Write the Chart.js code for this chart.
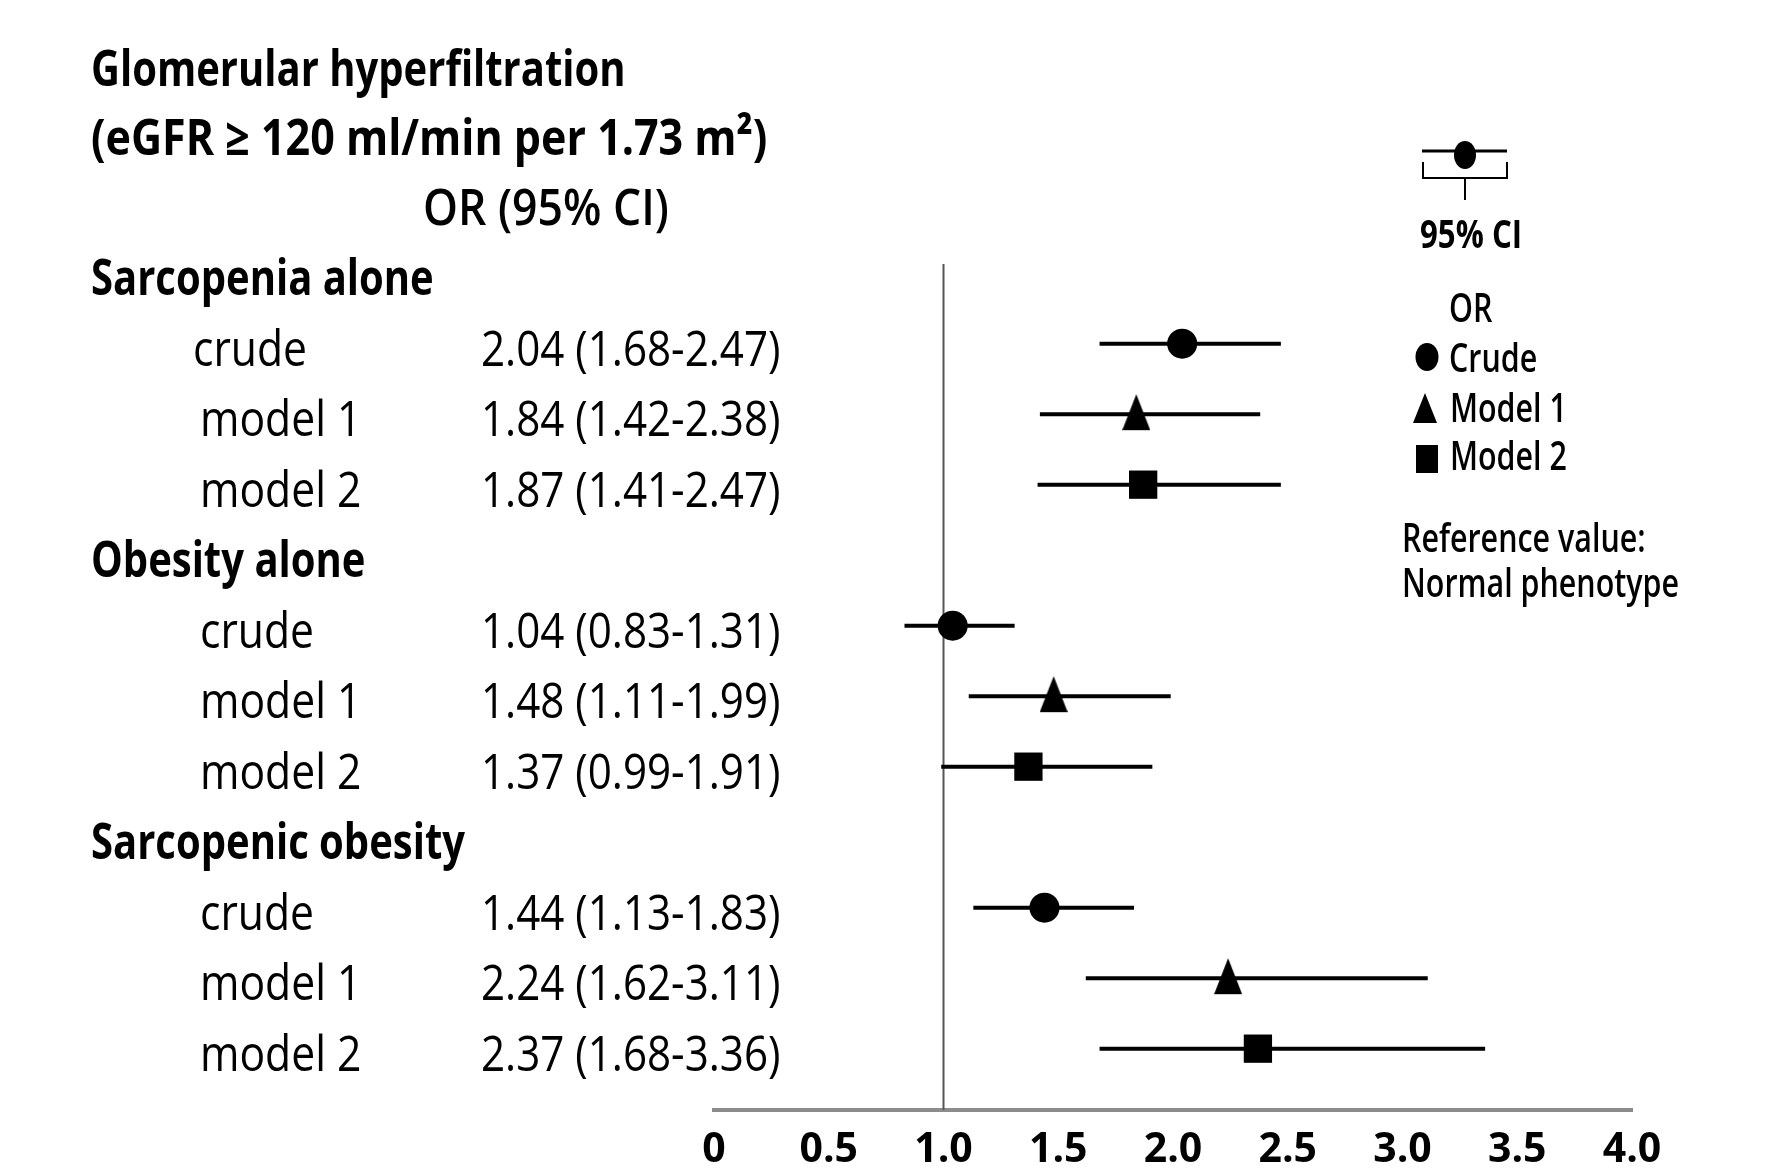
<!DOCTYPE html>
<html lang="en">
<head>
<meta charset="UTF-8">
<title>Glomerular hyperfiltration - OR (95% CI)</title>
<style>
  html, body { margin: 0; padding: 0; background: #fff; }
</style>
<script src="https://cdn.jsdelivr.net/npm/chart.js"></script>
</head>
<body>
<canvas id="forest" width="1785" height="1175"></canvas>
<script>
// values
const groups = ['Sarcopenia alone', 'Obesity alone', 'Sarcopenic obesity'];
const models = ['crude', 'model 1', 'model 2'];
const legendNames = ['Crude', 'Model 1', 'Model 2'];
const oddsRatio = [2.04, 1.84, 1.87, 1.04, 1.48, 1.37, 1.44, 2.24, 2.37];
const ciLow = [1.68, 1.42, 1.41, 0.83, 1.11, 0.99, 1.13, 1.62, 1.68];
const ciHigh = [2.47, 2.38, 2.47, 1.31, 1.99, 1.91, 1.83, 3.11, 3.36];
const xTicks = [0, 0.5, 1.0, 1.5, 2.0, 2.5, 3.0, 3.5, 4.0];
const tickLabels = ['0', '0.5', '1.0', '1.5', '2.0', '2.5', '3.0', '3.5', '4.0'];
const refValue = 1;
const titleLines = ['Glomerular hyperfiltration', '(eGFR \u2265 120 ml/min per 1.73 m\u00b2)'];

// row 0..2 are the header lines, then each group takes 4 rows
const groupRow = g => 3 + g * 4;
const rowOf = i => groupRow(Math.floor(i / 3)) + 1 + (i % 3);
const fmt = v => v.toFixed(2);

function triangleImg(w, h, base) {
    const c = document.createElement('canvas');
    c.width = w; c.height = h;
    const g = c.getContext('2d');
    g.fillStyle = '#000';
    g.beginPath();
    g.moveTo(w / 2, 1);
    g.lineTo(w, base);
    g.lineTo(0, base);
    g.closePath();
    g.fill();
    return c;
}

const markerStyles = [
    { pointStyle: 'circle', pointRadius: 15 },
    { pointStyle: triangleImg(28, 42, 37), pointRadius: 15 },
    { pointStyle: 'rect', pointRadius: 20 }
];

// text squeezed horizontally like the original figure
function txt(ctx, s, x, y, f) {
    ctx.save();
    ctx.font = f.weight + ' ' + f.size + 'px "Open Sans"';
    ctx.fillStyle = '#000';
    ctx.textBaseline = 'alphabetic';
    ctx.textAlign = 'left';
    ctx.translate(x, y);
    ctx.scale(f.sx, 1);
    ctx.fillText(s, 0, 0);
    ctx.restore();
}

const headFont = { weight: 700, size: 50, sx: 0.80 };
const title2Font = { weight: 700, size: 50, sx: 0.86 };
const orFont = { weight: 600, size: 50, sx: 0.89 };
const subFont = { weight: 400, size: 49, sx: 0.87 };
const valFont = { weight: 400, size: 49, sx: 0.86 };
const legFont = { weight: 600, size: 39, sx: 0.78 };
const legBold = { weight: 700, size: 39, sx: 0.8 };

const forestDecor = {
    id: 'forestDecor',
    beforeDatasetsDraw(chart) {
        const { ctx, chartArea, scales } = chart;
        const x = scales.x.getPixelForValue(refValue);
        ctx.save();
        ctx.strokeStyle = '#555';
        ctx.lineWidth = 2;
        ctx.beginPath();
        ctx.moveTo(x, chartArea.top);
        ctx.lineTo(x, chartArea.bottom);
        ctx.stroke();
        ctx.restore();
    },
    afterDraw(chart) {
        const { ctx, scales } = chart;
        const y = r => scales.y.getPixelForValue(r) + 22;

        txt(ctx, titleLines[0], 91, y(0) + 2, headFont);
        txt(ctx, titleLines[1], 91, y(1) + 1, title2Font);
        txt(ctx, 'OR (95% CI)', 423, y(2), orFont);

        groups.forEach((g, gi) => txt(ctx, g, 91, y(groupRow(gi)), headFont));
        oddsRatio.forEach((v, i) => {
            const r = rowOf(i);
            txt(ctx, models[i % 3], i === 0 ? 193 : 200, y(r), subFont);
            txt(ctx, fmt(v) + ' (' + fmt(ciLow[i]) + '-' + fmt(ciHigh[i]) + ')', 481, y(r), valFont);
        });

        // legend block
        ctx.save();
        ctx.fillStyle = '#000';
        ctx.strokeStyle = '#000';
        ctx.lineWidth = 3;
        ctx.beginPath();
        ctx.moveTo(1422, 151); ctx.lineTo(1507, 151);
        ctx.stroke();
        ctx.beginPath();
        ctx.ellipse(1465, 155, 11, 14, 0, 0, Math.PI * 2);
        ctx.fill();
        ctx.lineWidth = 2;
        ctx.beginPath();
        ctx.moveTo(1423, 162); ctx.lineTo(1423, 178); ctx.lineTo(1507, 178); ctx.lineTo(1507, 162);
        ctx.moveTo(1465, 178); ctx.lineTo(1465, 200);
        ctx.stroke();

        ctx.beginPath();
        ctx.ellipse(1427, 357, 11.5, 14, 0, 0, Math.PI * 2);
        ctx.fill();
        ctx.beginPath();
        ctx.moveTo(1425, 393); ctx.lineTo(1437, 423); ctx.lineTo(1413, 423);
        ctx.closePath();
        ctx.fill();
        ctx.fillRect(1416, 445, 22, 28);
        ctx.restore();

        txt(ctx, '95% CI', 1420, 248, legBold);
        txt(ctx, 'OR', 1449, 322, legFont);
        txt(ctx, legendNames[0], 1449, 372, legFont);
        txt(ctx, legendNames[1], 1450, 422, legFont);
        txt(ctx, legendNames[2], 1450, 470, legFont);
        txt(ctx, 'Reference value:', 1402, 552, legFont);
        txt(ctx, 'Normal phenotype', 1402, 597, legFont);
    }
};

const ciSets = oddsRatio.map((v, i) => ({
    data: [{ x: ciLow[i], y: rowOf(i) }, { x: ciHigh[i], y: rowOf(i) }],
    showLine: true,
    borderColor: '#000',
    borderWidth: 4,
    pointRadius: 0,
    order: 2
}));

const markerSets = legendNames.map((name, m) => ({
    label: name,
    data: oddsRatio.map((v, i) => ({ x: v, y: rowOf(i) })).filter((p, i) => i % 3 === m),
    backgroundColor: '#000',
    borderColor: '#000',
    borderWidth: 0,
    pointStyle: markerStyles[m].pointStyle,
    pointRadius: markerStyles[m].pointRadius,
    order: 1
}));

new Chart(document.getElementById('forest'), {
    type: 'scatter',
    data: { datasets: [...ciSets, ...markerSets] },
    plugins: [forestDecor],
    options: {
        responsive: false,
        animation: false,
        layout: { padding: { left: 714, right: 153, top: 264, bottom: 0 } },
        plugins: { legend: { display: false }, tooltip: { enabled: false } },
        scales: {
            x: {
                type: 'linear',
                min: 0,
                max: 4,
                afterBuildTicks: scale => { scale.ticks = xTicks.map(v => ({ value: v })); },
                afterFit: scale => { scale.height = 65; },
                grid: { display: false },
                border: { display: true, color: '#8c8c8c', width: 4 },
                ticks: {
                    callback: (v, i) => tickLabels[i],
                    color: '#000',
                    font: { family: 'Open Sans', size: 41, weight: 'bold' },
                    padding: 8,
                    autoSkip: false,
                    maxRotation: 0
                }
            },
            y: {
                type: 'linear',
                reverse: true,
                min: 2.87,
                max: 14.87,
                display: false
            }
        }
    }
});
</script>
</body>
</html>
